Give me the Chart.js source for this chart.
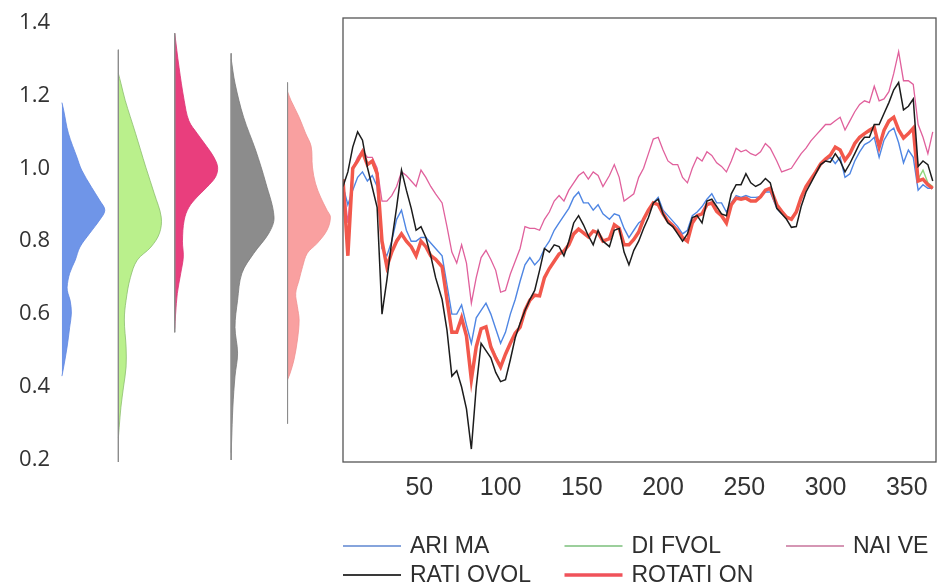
<!DOCTYPE html>
<html>
<head>
<meta charset="utf-8">
<script src="https://cdn.jsdelivr.net/npm/chart.js@4.4.1/dist/chart.umd.min.js"></script>
<style>
  html, body { margin: 0; padding: 0; background: #fff; }
  #wrap { position: relative; width: 938px; height: 588px; overflow: hidden; }
  #densBox { position: absolute; left: 0; top: 0; width: 340px; height: 480px; }
  #lineBox { position: absolute; left: 330px; top: 0; width: 608px; height: 588px; }
</style>
</head>
<body>
<div id="wrap">
  <div id="densBox"><canvas id="DensityChart"></canvas></div>
  <div id="lineBox"><canvas id="LineChart"></canvas></div>
</div>
<script>
// shared value axis
const yTickValues = [0.2, 0.4, 0.6, 0.8, 1.0, 1.2, 1.4];
const xTickValues = [50, 100, 150, 200, 250, 300, 350];

// days of the out-of-sample period (sampled every ~3 days)
const days = [
  3, 6, 9, 12, 15, 18, 21, 24, 27, 30,
  33, 36, 39, 42, 45, 48, 51, 54, 57, 60,
  64, 67, 70, 73, 76, 79, 82, 85, 88, 91,
  94, 97, 100, 103, 106, 109, 112, 115, 118, 121,
  124, 127, 130, 133, 136, 139, 142, 145, 148, 151,
  154, 157, 160, 163, 167, 170, 173, 176, 179, 182,
  185, 188, 191, 194, 197, 200, 203, 206, 209, 212,
  215, 218, 221, 224, 227, 230, 233, 236, 239, 242,
  245, 248, 251, 254, 257, 260, 263, 266, 270, 273,
  276, 279, 282, 285, 288, 291, 294, 297, 300, 303,
  306, 309, 312, 315, 318, 321, 324, 327, 330, 333,
  336, 339, 342, 345, 348, 351, 354, 357, 360, 363,
  366
];

const arima = [
  0.95, 0.90, 0.94, 0.975, 0.99, 0.965, 0.98, 0.95, 0.78, 0.76,
  0.80, 0.86, 0.885, 0.83, 0.80, 0.80, 0.81, 0.81, 0.795, 0.78,
  0.76, 0.68, 0.60, 0.60, 0.625, 0.57, 0.52, 0.59, 0.61, 0.63,
  0.60, 0.56, 0.52, 0.55, 0.60, 0.64, 0.69, 0.735, 0.755, 0.735,
  0.75, 0.78, 0.80, 0.83, 0.85, 0.87, 0.89, 0.92, 0.935, 0.905,
  0.905, 0.885, 0.90, 0.875, 0.86, 0.875, 0.87, 0.835, 0.81, 0.83,
  0.85, 0.86, 0.885, 0.905, 0.92, 0.885, 0.87, 0.855, 0.84, 0.82,
  0.83, 0.87, 0.88, 0.895, 0.915, 0.93, 0.905, 0.905, 0.88, 0.905,
  0.925, 0.92, 0.925, 0.92, 0.92, 0.922, 0.935, 0.935, 0.89, 0.875,
  0.865, 0.86, 0.88, 0.915, 0.945, 0.97, 0.99, 1.01, 1.02, 1.03,
  1.013, 1.03, 0.975, 0.985, 1.02, 1.045, 1.065, 1.072, 1.085, 1.03,
  1.077, 1.10, 1.11, 1.07, 1.015, 1.05, 1.03, 0.94, 0.955, 0.945,
  0.945
];

const difvol = [
  0.97, 0.77, 0.995, 1.02, 1.04, 1.01, 1.015, 0.98, 0.80, 0.735,
  0.77, 0.805, 0.82, 0.80, 0.785, 0.765, 0.80, 0.785, 0.765, 0.75,
  0.73, 0.645, 0.555, 0.55, 0.59, 0.545, 0.425, 0.51, 0.56, 0.565,
  0.515, 0.485, 0.46, 0.49, 0.52, 0.55, 0.565, 0.61, 0.64, 0.65,
  0.655, 0.70, 0.725, 0.745, 0.765, 0.775, 0.79, 0.82, 0.835, 0.823,
  0.812, 0.828, 0.823, 0.80, 0.807, 0.845, 0.835, 0.79, 0.79, 0.805,
  0.825, 0.86, 0.885, 0.905, 0.90, 0.875, 0.855, 0.843, 0.828, 0.81,
  0.80, 0.85, 0.87, 0.875, 0.90, 0.905, 0.882, 0.87, 0.85, 0.90,
  0.918, 0.915, 0.92, 0.91, 0.91, 0.922, 0.94, 0.945, 0.90, 0.882,
  0.866, 0.86, 0.88, 0.92, 0.95, 0.97, 0.99, 1.012, 1.025, 1.036,
  1.055, 1.05, 1.022, 1.04, 1.065, 1.085, 1.095, 1.10, 1.11, 1.058,
  1.10, 1.125, 1.14, 1.105, 1.083, 1.095, 1.11, 0.97, 0.995, 0.96,
  0.95
];

const naive = [
  0.97, 0.85, 1.00, 1.03, 1.05, 1.03, 1.03, 1.00, 0.91, 0.91,
  0.925, 0.95, 0.99, 0.98, 0.965, 0.95, 0.995, 0.975, 0.95, 0.93,
  0.905, 0.84, 0.77, 0.74, 0.79, 0.74, 0.63, 0.70, 0.755, 0.775,
  0.75, 0.72, 0.66, 0.665, 0.71, 0.745, 0.78, 0.84, 0.835, 0.835,
  0.83, 0.86, 0.88, 0.91, 0.925, 0.91, 0.94, 0.96, 0.98, 0.99,
  0.97, 0.99, 0.98, 0.95, 0.98, 1.01, 0.975, 0.91, 0.92, 0.93,
  0.975, 1.00, 1.04, 1.08, 1.085, 1.05, 1.02, 1.01, 1.01, 0.975,
  0.96, 1.00, 1.03, 1.02, 1.045, 1.035, 1.015, 1.005, 0.99, 1.02,
  1.055, 1.045, 1.05, 1.04, 1.035, 1.045, 1.068, 1.055, 1.02, 0.99,
  0.995, 1.00, 1.02, 1.04, 1.055, 1.075, 1.09, 1.105, 1.12, 1.12,
  1.13, 1.14, 1.105, 1.13, 1.155, 1.175, 1.185, 1.18, 1.225, 1.185,
  1.19, 1.21, 1.26, 1.32, 1.24, 1.24, 1.23, 1.12, 1.085, 1.04,
  1.10
];

const ratiovol = [
  0.95, 0.99, 1.058, 1.10, 1.077, 1.003, 0.948, 0.893, 0.60, 0.693,
  0.80, 0.893, 0.995, 0.94, 0.89, 0.83, 0.84, 0.81, 0.76, 0.70,
  0.64, 0.556, 0.43, 0.445, 0.40, 0.34, 0.23, 0.40, 0.52, 0.50,
  0.48, 0.44, 0.415, 0.42, 0.475, 0.535, 0.575, 0.61, 0.64, 0.665,
  0.72, 0.78, 0.77, 0.79, 0.785, 0.76, 0.80, 0.85, 0.87, 0.845,
  0.815, 0.79, 0.83, 0.80, 0.785, 0.83, 0.835, 0.77, 0.735, 0.775,
  0.80, 0.835, 0.865, 0.905, 0.915, 0.875, 0.85, 0.84, 0.82, 0.80,
  0.82, 0.865, 0.87, 0.85, 0.91, 0.915, 0.895, 0.875, 0.87, 0.93,
  0.955, 0.955, 0.985, 0.96, 0.95, 0.957, 0.972, 0.96, 0.89, 0.875,
  0.86, 0.838, 0.84, 0.895, 0.935, 0.96, 0.985, 1.01, 1.02, 1.017,
  1.04, 1.02, 0.99, 1.013, 1.04, 1.068, 1.085, 1.085, 1.12, 1.12,
  1.15, 1.18, 1.215, 1.235, 1.16, 1.17, 1.19, 1.005, 1.02, 1.01,
  0.965
];

const rotation = [
  0.97, 0.76, 1.00, 1.02, 1.045, 1.01, 1.02, 0.985, 0.80, 0.73,
  0.77, 0.80, 0.82, 0.80, 0.785, 0.76, 0.80, 0.785, 0.76, 0.75,
  0.73, 0.64, 0.55, 0.55, 0.59, 0.54, 0.42, 0.51, 0.56, 0.565,
  0.51, 0.48, 0.455, 0.49, 0.52, 0.548, 0.564, 0.61, 0.638, 0.652,
  0.65, 0.70, 0.725, 0.745, 0.765, 0.773, 0.79, 0.82, 0.833, 0.823,
  0.812, 0.828, 0.823, 0.80, 0.807, 0.845, 0.835, 0.79, 0.79, 0.805,
  0.825, 0.86, 0.885, 0.905, 0.90, 0.875, 0.855, 0.843, 0.828, 0.81,
  0.80, 0.85, 0.87, 0.875, 0.90, 0.905, 0.882, 0.87, 0.85, 0.90,
  0.918, 0.915, 0.918, 0.91, 0.91, 0.922, 0.94, 0.945, 0.90, 0.882,
  0.866, 0.86, 0.88, 0.92, 0.95, 0.97, 0.99, 1.012, 1.025, 1.036,
  1.058, 1.05, 1.022, 1.04, 1.068, 1.085, 1.095, 1.104, 1.112, 1.058,
  1.104, 1.13, 1.14, 1.105, 1.083, 1.095, 1.11, 0.965, 0.97, 0.955,
  0.945
];

// densities: [level, relative width]
const arimaDensity = [
  [1.18, 0], [1.159, 0.04], [1.096, 0.15], [1.03, 0.35], [0.995, 0.46], [0.948, 0.69],
  [0.912, 0.88], [0.885, 1.0], [0.858, 0.88], [0.822, 0.65], [0.784, 0.42], [0.748, 0.31],
  [0.712, 0.18], [0.674, 0.12], [0.657, 0.14], [0.638, 0.19], [0.603, 0.22], [0.564, 0.18],
  [0.51, 0.12], [0.455, 0.04], [0.43, 0]
];
const difvolDensity = [
  [1.26, 0], [1.233, 0.06], [1.186, 0.16], [1.096, 0.40], [1.003, 0.64], [0.93, 0.84],
  [0.866, 1.0], [0.822, 0.96], [0.784, 0.76], [0.748, 0.44], [0.70, 0.28], [0.638, 0.18],
  [0.584, 0.14], [0.51, 0.18], [0.455, 0.18], [0.40, 0.12], [0.345, 0.06], [0.29, 0.02],
  [0.26, 0]
];
const naiveDensity = [
  [1.37, 0], [1.277, 0.1], [1.186, 0.22], [1.13, 0.33], [1.096, 0.52], [1.059, 0.75],
  [1.031, 0.91], [1.003, 1.0], [0.976, 0.95], [0.948, 0.75], [0.921, 0.52], [0.893, 0.33],
  [0.858, 0.22], [0.80, 0.18], [0.757, 0.2], [0.712, 0.14], [0.657, 0.06], [0.60, 0.02],
  [0.56, 0]
];
const ratiovolDensity = [
  [1.30, 0], [1.233, 0.09], [1.14, 0.29], [1.05, 0.57], [0.959, 0.81], [0.866, 1.0],
  [0.822, 0.88], [0.767, 0.53], [0.712, 0.25], [0.638, 0.15], [0.564, 0.09], [0.493, 0.15],
  [0.43, 0.09], [0.345, 0.04], [0.25, 0.01], [0.22, 0]
];
const rotationDensity = [
  [1.21, 0], [1.186, 0.08], [1.14, 0.27], [1.096, 0.42], [1.06, 0.55], [1.003, 0.58],
  [0.959, 0.65], [0.921, 0.77], [0.885, 0.92], [0.866, 1.0], [0.83, 0.92], [0.794, 0.69],
  [0.767, 0.46], [0.73, 0.35], [0.694, 0.27], [0.657, 0.19], [0.62, 0.23], [0.584, 0.27],
  [0.529, 0.23], [0.475, 0.15], [0.438, 0.06], [0.42, 0]
];
// top and bottom of each density's spine
const spineTop = [1.18, 1.325, 1.37, 1.315, 1.235];
const spineBottom = [0.43, 0.19, 0.55, 0.20, 0.30];

const Y_MIN = 0.1945, Y_MAX = 1.412;
const slotOffset = 0.07;
const halfWidth = 0.76;

function densityDataset(pairs, slot, color, edge) {
  return {
    data: pairs.map(p => ({ x: slot + slotOffset + p[1] * halfWidth, y: p[0] })),
    backgroundColor: color,
    borderColor: edge,
    borderWidth: 0.8,
    fill: { value: slot + slotOffset },
    pointRadius: 0,
    tension: 0.35,
    order: 2,
  };
}

function spineDataset(slot) {
  return {
    data: [
      { x: slot + slotOffset, y: spineTop[slot] },
      { x: slot + slotOffset, y: spineBottom[slot] },
    ],
    borderColor: '#8c8c8c',
    borderWidth: 1,
    fill: false,
    pointRadius: 0,
    order: 1,
  };
}

function noScalePadding(axis) {
  axis.paddingTop = 0;
  axis.paddingBottom = 0;
  axis.paddingLeft = 0;
  axis.paddingRight = 0;
}

const densityChart = new Chart(document.getElementById("DensityChart"), {
  type: "line",
  data: {
    datasets: [
      densityDataset(arimaDensity, 0, "rgb(111,149,232)", "rgb(95,135,225)"),
      densityDataset(difvolDensity, 1, "rgb(186,240,140)", "rgb(140,190,110)"),
      densityDataset(naiveDensity, 2, "rgb(233,62,125)", "rgb(220,50,115)"),
      densityDataset(ratiovolDensity, 3, "rgb(140,140,140)", "rgb(120,120,120)"),
      densityDataset(rotationDensity, 4, "rgb(249,160,160)", "rgb(240,145,145)"),
      spineDataset(1), spineDataset(2), spineDataset(3), spineDataset(4),
    ],
  },
  options: {
    indexAxis: "y",
    responsive: true,
    maintainAspectRatio: false,
    animation: false,
    layout: { autoPadding: false, padding: { left: 0, right: 0, top: 18, bottom: 18 } },
    plugins: { legend: { display: false }, tooltip: { enabled: false } },
    scales: {
      x: { type: "linear", display: false, min: 0, max: 5 },
      y: {
        type: "linear",
        min: Y_MIN,
        max: Y_MAX,
        grid: { display: false, drawTicks: false },
        border: { display: false },
        afterBuildTicks: (axis) => { axis.ticks = yTickValues.map(v => ({ value: v })); },
        afterFit: (axis) => { axis.width = 58; noScalePadding(axis); },
        ticks: {
          padding: 8,
          color: "#333",
          font: { family: "'Open Sans', sans-serif", size: 22 },
          callback: (v) => Number(v).toFixed(1),
        },
      },
    },
  },
});

// legend sits in a 3-column grid under the axis
const legendOrder = ["ARI MA", "DI FVOL", "NAI VE", "RATI OVOL", "ROTATI ON"];

const frameAndLegend = {
  id: "frameAndLegend",
  afterDatasetsDraw(chart) {
    const { ctx, chartArea: a } = chart;
    ctx.save();
    ctx.strokeStyle = "#555";
    ctx.lineWidth = 1.3;
    ctx.strokeRect(a.left, a.top, a.right - a.left, a.bottom - a.top);
    ctx.restore();
  },
  afterDraw(chart) {
    const ctx = chart.ctx;
    const left = chart.chartArea.left;
    ctx.save();
    ctx.font = "23px 'Liberation Sans', Arial, sans-serif";
    ctx.textBaseline = "middle";
    legendOrder.forEach((name, i) => {
      const ds = chart.data.datasets.find(d => d.label === name);
      const x = left + (i % 3) * 221.5;
      const y = 546 + Math.floor(i / 3) * 29;
      ctx.strokeStyle = ds.legendColor;
      ctx.lineWidth = ds.borderWidth > 3 ? 3.5 : 2;
      ctx.beginPath();
      ctx.moveTo(x, y);
      ctx.lineTo(x + 58, y);
      ctx.stroke();
      ctx.fillStyle = "#2e2e2e";
      ctx.fillText(name, x + 67, y + 1);
    });
    ctx.restore();
  },
};

function series(label, values, color, legendColor, width, order) {
  return {
    label: label,
    data: values.map((v, i) => ({ x: days[i], y: v })),
    borderColor: color,
    legendColor: legendColor,
    borderWidth: width,
    pointRadius: 0,
    tension: 0,
    fill: false,
    order: order,
  };
}

const lineChart = new Chart(document.getElementById("LineChart"), {
  type: "line",
  data: {
    datasets: [
      series("ARI MA", arima, "#4f86e3", "#86a4dc", 1.4, 4),
      series("DI FVOL", difvol, "#8fd67c", "#9ccf9c", 1.4, 3),
      series("NAI VE", naive, "#e0609c", "#d596b4", 1.3, 5),
      series("RATI OVOL", ratiovol, "#1c1c1c", "#3a3a3a", 1.5, 1),
      series("ROTATI ON", rotation, "#f2584c", "#f0525a", 3.5, 2),
    ],
  },
  options: {
    responsive: true,
    maintainAspectRatio: false,
    animation: false,
    layout: { autoPadding: false, padding: { left: 13, right: 2, top: 18, bottom: 76 } },
    plugins: { legend: { display: false }, tooltip: { enabled: false } },
    scales: {
      x: {
        type: "linear",
        min: 3,
        max: 368,
        grid: { display: false, drawTicks: false },
        border: { display: false },
        afterBuildTicks: (axis) => { axis.ticks = xTickValues.map(v => ({ value: v })); },
        afterFit: (axis) => { axis.height = 50; noScalePadding(axis); },
        ticks: {
          autoSkip: false,
          maxRotation: 0,
          padding: 11,
          color: "#333",
          font: { family: "'Liberation Sans', Arial, sans-serif", size: 25 },
        },
      },
      y: { type: "linear", display: false, min: Y_MIN, max: Y_MAX },
    },
  },
  plugins: [frameAndLegend],
});
</script>
</body>
</html>
